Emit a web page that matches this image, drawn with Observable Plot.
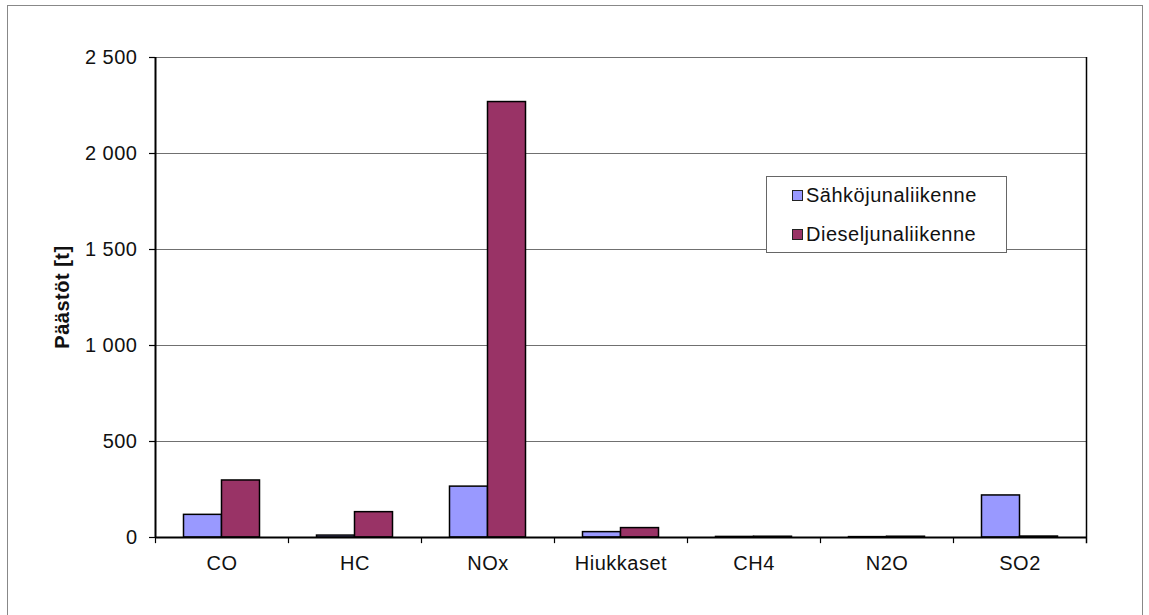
<!DOCTYPE html>
<html>
<head>
<meta charset="utf-8">
<script src="https://cdn.jsdelivr.net/npm/d3@7"></script>
<script src="https://cdn.jsdelivr.net/npm/@observablehq/plot@0.6"></script>
<style>
  html, body { margin: 0; padding: 0; background: #fff; }
  #wrap { position: relative; width: 1149px; height: 615px; overflow: hidden; font-family: "Liberation Sans", Arial, sans-serif; }
  #border { position: absolute; left: 7px; top: 5px; width: 1136px; height: 640px; border: 1.5px solid #888; box-sizing: border-box; }
  #chart { position: absolute; left: 0; top: 0; }
  #chart text { letter-spacing: 0.5px; }
  #ylabel { position: absolute; left: 62px; top: 297px; transform: translate(-50%, -50%) rotate(-90deg); font-weight: bold; font-size: 20px; letter-spacing: 0.5px; white-space: nowrap; color: #111; }
  #legend { position: absolute; left: 766px; top: 176px; width: 241px; height: 77px; border: 1.5px solid #666; box-sizing: border-box; background: #fff; font-size: 20px; letter-spacing: 0.5px; color: #111; }
  .row { position: absolute; left: 25px; display: flex; align-items: center; height: 22px; }
  .sw { width: 11px; height: 11px; border: 1.5px solid #222; box-sizing: border-box; margin-right: 3px; }
</style>
</head>
<body>
<div id="wrap">
  <div id="border"></div>
  <div id="chart"></div>
  <div id="ylabel"></div>
  <div id="legend"></div>
</div>
<script>
const categories = ["CO", "HC", "NOx", "Hiukkaset", "CH4", "N2O", "SO2"];
const seriesNames = ["Sähköjunaliikenne", "Dieseljunaliikenne"];
const sahko = [118, 10, 265, 28, 3, 2, 219];
const diesel = [297, 132, 2268, 49, 4, 4, 5];
const yTicks = [0, 500, 1000, 1500, 2000, 2500];
const yLabel = "Päästöt [t]";
const colors = ["#9999ff", "#993366"];

const rowsS = categories.map((c, i) => ({cat: c, value: sahko[i]}));
const rowsD = categories.map((c, i) => ({cat: c, value: diesel[i]}));

const fmt = v => v >= 1000 ? Math.floor(v / 1000) + " " + String(v % 1000).padStart(3, "0") : String(v);

const half = 66.5;   // half of a category band (px)
const first = categories[0], last = categories[categories.length - 1];

const plot = Plot.plot({
  width: 1149,
  height: 615,
  marginLeft: 155,
  marginRight: 63,
  marginTop: 57,
  marginBottom: 78,
  style: {fontFamily: "Liberation Sans, Arial, sans-serif", fontSize: "20px", color: "#111", background: "transparent", overflow: "visible"},
  x: {domain: categories, padding: 0, label: null, axis: null},
  y: {domain: [0, 2500], label: null, axis: null},
  marks: [
    Plot.gridY(yTicks, {stroke: "#707070", strokeOpacity: 1, strokeWidth: 1.2}),
    Plot.barY(rowsS, {x: "cat", y: "value", fill: colors[0], stroke: "#000", strokeWidth: 1.5, insetLeft: 28.5, insetRight: 66.5}),
    Plot.barY(rowsD, {x: "cat", y: "value", fill: colors[1], stroke: "#000", strokeWidth: 1.5, insetLeft: 66.5, insetRight: 28.5}),
    Plot.ruleX(categories, {x: d => d, dx: -half, y1: -32, y2: 0, stroke: "#000", strokeWidth: 1.2}),
    Plot.ruleX([last], {x: d => d, dx: half, y1: -32, y2: 2500, stroke: "#000", strokeWidth: 1.5}),
    Plot.ruleX([first], {x: d => d, dx: -half, y1: 0, y2: 2500, stroke: "#000", strokeWidth: 2}),
    Plot.ruleY([0], {stroke: "#000", strokeWidth: 2}),
    Plot.axisY(yTicks, {tickSize: 6, tickPadding: 12, tickFormat: fmt, label: null, fontSize: 20, stroke: "#000", strokeWidth: 1.2}),
    Plot.axisX(categories, {tickSize: 0, tickPadding: 18, label: null, fontSize: 20})
  ]
});
document.getElementById("chart").appendChild(plot);

document.getElementById("ylabel").textContent = yLabel;
const legend = document.getElementById("legend");
seriesNames.forEach((name, i) => {
  const row = document.createElement("div");
  row.className = "row";
  row.style.top = (i === 0 ? 7 : 46) + "px";
  const sw = document.createElement("div");
  sw.className = "sw";
  sw.style.background = colors[i];
  const t = document.createElement("span");
  t.textContent = name;
  row.appendChild(sw);
  row.appendChild(t);
  legend.appendChild(row);
});
</script>
</body>
</html>
